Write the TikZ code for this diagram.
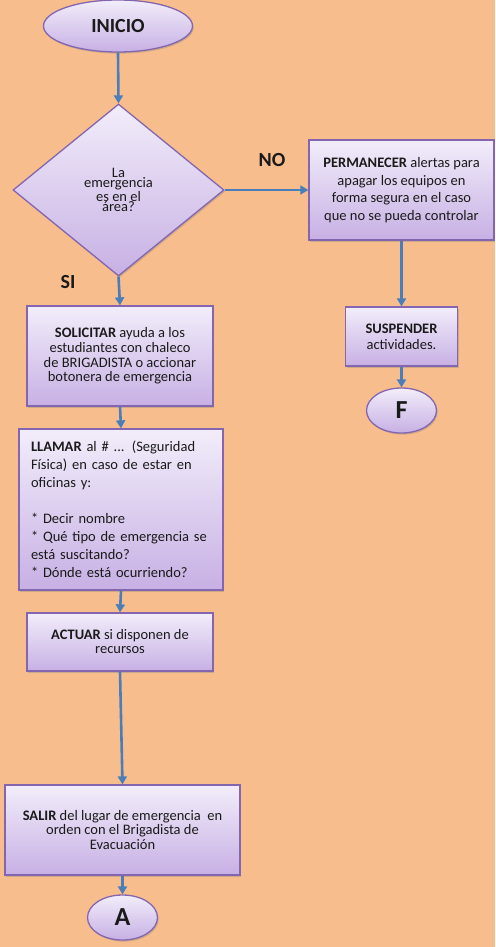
\documentclass[tikz,border=0pt]{standalone}
\usepackage{fontspec}
\setmainfont{Carlito}
\usetikzlibrary{shapes.geometric,arrows.meta,shadows}
\definecolor{bgor}{HTML}{F8BD8C}
\definecolor{boxtop}{HTML}{F2EDFA}
\definecolor{boxbot}{HTML}{C7B0E4}
\definecolor{boxline}{HTML}{8466B0}
\definecolor{arr}{HTML}{4A7EBB}
\definecolor{txt}{HTML}{1A1A1A}
\tikzset{
  base/.style={draw=boxline, line width=1.3pt, top color=boxtop, bottom color=boxbot,
    drop shadow={shadow xshift=1.2pt, shadow yshift=-1.6pt, opacity=0.35},
    inner sep=0pt, text=txt},
  proc/.style={base, rectangle, align=center},
  term/.style={base, ellipse, font=\bfseries\fontsize{20}{20}\selectfont},
  dec/.style={base, diamond, align=center},
  flow/.style={draw=arr, line width=2.6pt, -{Triangle[width=9pt,length=8pt]}},
  lbl/.style={font=\bfseries\fontsize{20}{20}\selectfont, text=txt},
}
\begin{document}
\begin{tikzpicture}[x=1pt,y=-1pt]
\fill[bgor] (0,0) rectangle (495,947);
\useasboundingbox (0,0) rectangle (495,947);

\node[term, minimum width=149pt, minimum height=52pt] (inicio) at (118,26) {INICIO};

\node[dec, minimum width=211pt, minimum height=172pt, font=\fontsize{14.5}{10.5}\selectfont] (dia) at (118.5,190) {La\\emergencia\\es en el\\área?};

\node[proc, minimum width=185pt, minimum height=100pt, font=\fontsize{14.5}{17.5}\selectfont] (perm) at (401.5,190)
  {\textbf{PERMANECER} alertas para\\apagar los equipos en\\forma segura en el caso\\que no se pueda controlar};

\node[proc, minimum width=186pt, minimum height=100pt, font=\fontsize{14.5}{14.7}\selectfont] (sol) at (120,356)
  {\textbf{SOLICITAR} ayuda a los\\estudiantes con chaleco\\de BRIGADISTA o accionar\\botonera de emergencia};

\node[base, rectangle, align=left, text width=180pt, inner xsep=12pt, minimum height=161pt, font=\fontsize{14.5}{18}\selectfont] (llam) at (121,509.5)
  {\textbf{LLAMAR} al \# ... (Seguridad\\Física) en caso de estar en\\oficinas y:\\[18pt]{*} Decir nombre\\{*} Qué tipo de emergencia se\\está suscitando?\\{*} Dónde está ocurriendo?};

\node[proc, minimum width=186pt, minimum height=58pt, font=\fontsize{14.5}{14}\selectfont] (act) at (120,642)
  {\textbf{ACTUAR} si disponen de\\recursos};

\node[proc, minimum width=235pt, minimum height=90pt, font=\fontsize{14.5}{14.5}\selectfont] (salir) at (122.5,830)
  {\textbf{SALIR} del lugar de emergencia\ \ en\\orden con el Brigadista de\\Evacuación};

\node[term, minimum width=70pt, minimum height=45pt, font=\bfseries\fontsize{26}{26}\selectfont] (a) at (122.5,917.5) {A};

\node[proc, minimum width=112pt, minimum height=59pt, font=\fontsize{14.5}{16}\selectfont] (susp) at (401.5,336.5)
  {\textbf{SUSPENDER}\\actividades.};

\node[term, minimum width=70pt, minimum height=45pt, font=\bfseries\fontsize{26}{26}\selectfont] (f) at (401.5,410.5) {F};

\node[lbl] (no) at (272,160) {NO};
\node[lbl] (si) at (68,282) {SI};

\draw[flow] (inicio.south) -- (dia.north);
\draw[flow] (dia.east) -- (perm.west);
\draw[flow] (dia.south) -- (sol.north);
\draw[flow] (sol.south) -- (llam.north);
\draw[flow] (llam.south) -- (act.north);
\draw[flow] (act.south) -- (salir.north);
\draw[flow] (salir.south) -- (a.north);
\draw[flow] (perm.south) -- (susp.north);
\draw[flow] (susp.south) -- (f.north);
\end{tikzpicture}
\end{document}
